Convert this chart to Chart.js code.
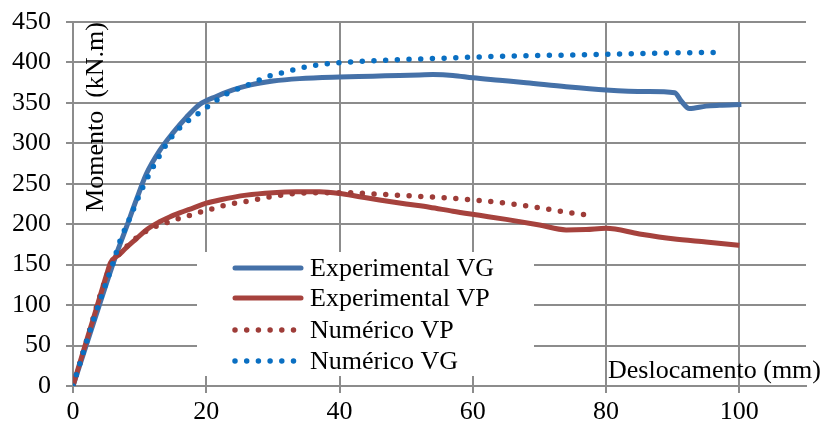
<!DOCTYPE html>
<html>
<head>
<meta charset="utf-8">
<script src="https://cdn.jsdelivr.net/npm/chart.js@4"></script>
<style>
  html, body { margin: 0; background: #fff; }
</style>
</head>
<body>
<canvas id="momentChart" width="827" height="427"></canvas>
<script>
// Deslocamento (mm) / Momento (kN.m) per series
const dispVgExp = [0, 3, 6.3, 8, 9.5, 11, 13, 15, 17, 19, 21.5, 24, 26.5, 30, 34, 40, 45, 49, 52, 54, 57, 60, 64, 68, 74, 80, 86, 90.3, 91.3, 92.5, 95, 97, 100.3];
const momVgExp = [0, 76, 158, 196, 230, 262, 291, 313, 332, 348, 358, 366, 372, 377, 380, 382, 383, 384, 384.5, 385, 384, 381, 378, 375, 370, 366, 364, 362.5, 352, 343, 346, 347, 348];

const dispVpExp = [0, 1, 3, 5.2, 5.6, 7, 8, 9.5, 11, 13, 14.5, 16, 18, 20, 22, 26, 30, 33.5, 37, 40, 43, 46, 50, 53.5, 57, 61, 65, 70, 74, 77, 80, 85, 90, 95, 100];
const momVpExp = [0, 28, 82, 142, 152, 163, 171, 182, 193, 203, 209, 214, 220, 226, 230, 236, 239, 240, 240, 238, 234, 230, 225, 221, 216, 211, 206, 199, 193, 193.5, 195, 188, 182, 178, 174];

const dispVpNum = [0, 2, 4, 6, 6.8, 8, 9.5, 11.3, 13, 14.5, 16.3, 18, 19.5, 21.3, 23, 26.5, 30, 33.5, 37, 40.5, 46, 53, 60, 67, 74, 77.5];
const momVpNum = [0, 55, 110, 155, 162, 172, 183, 193, 199, 203, 208, 212, 216, 220, 224, 229, 234.5, 238, 239, 239, 237, 234, 230, 224, 215, 211];

const dispVgNum = [0, 3, 6, 7, 8.5, 10.5, 13, 15, 17, 19, 20.5, 23, 26.8, 29, 31.8, 35.3, 40.5, 45, 49, 55, 61.5, 70, 79.5, 88, 97];
const momVgNum = [0, 80, 152, 178, 207, 246, 285, 310, 326, 338, 347, 361, 374, 382, 388, 395, 400, 402, 403.5, 405, 407, 408.5, 410, 411.5, 412.5];

const seriesNames = ['Experimental VG', 'Experimental VP', 'Numérico VP', 'Numérico VG'];

const serif = '"Liberation Serif", "Times New Roman", serif';
const gridGrey = '#8c8c8c';
const dotGap = [0, 11.7];

const toPoints = (xs, ys) => xs.map((x, i) => ({ x: x, y: ys[i] }));

// axis titles and the boxed legend sitting inside the plot
const overlay = {
    id: 'overlay',
    beforeDatasetsDraw(chart) {
        const ctx = chart.ctx;
        ctx.save();
        ctx.fillStyle = '#fff';
        ctx.fillRect(197, 252, 337, 124);

        const rows = [268, 298, 330, 361];
        chart.data.datasets.forEach((ds, i) => {
            const y = rows[i];
            ctx.strokeStyle = ds.borderColor;
            ctx.lineWidth = ds.borderWidth;
            ctx.lineCap = 'round';
            ctx.setLineDash(ds.borderDash || []);
            ctx.beginPath();
            ctx.moveTo(235, y);
            ctx.lineTo(ds.borderDash ? 294 : 301, y);
            ctx.stroke();
            ctx.setLineDash([]);

            ctx.fillStyle = '#000';
            ctx.font = '26px ' + serif;
            ctx.textAlign = 'left';
            ctx.textBaseline = 'middle';
            ctx.fillText(ds.label, 310, y + 1);
        });
        ctx.restore();
    },
    afterDraw(chart) {
        const ctx = chart.ctx;
        ctx.save();
        ctx.fillStyle = '#000';
        ctx.font = '26px ' + serif;
        ctx.textBaseline = 'alphabetic';

        ctx.textAlign = 'left';
        ctx.fillText('Deslocamento (mm)', 608, 378);

        ctx.translate(102.5, 117);
        ctx.rotate(-Math.PI / 2);
        ctx.textAlign = 'center';
        ctx.fillText('Momento  (kN.m)', 0, 0);
        ctx.restore();
    }
};

// fixed axis sizes, no extra room for overhanging tick labels
const fixX = scale => {
    scale.height = 41;
    scale.paddingLeft = 0;
    scale.paddingRight = 0;
};
const fixY = scale => {
    scale.width = 73;
    scale.paddingTop = 0;
    scale.paddingBottom = 0;
};

new Chart(document.getElementById('momentChart'), {
    type: 'line',
    data: {
        datasets: [{
            label: seriesNames[0],
            data: toPoints(dispVgExp, momVgExp),
            borderColor: '#4571a8',
            borderWidth: 5,
            order: 3
        }, {
            label: seriesNames[1],
            data: toPoints(dispVpExp, momVpExp),
            borderColor: '#a6423d',
            borderWidth: 5,
            order: 2
        }, {
            label: seriesNames[2],
            data: toPoints(dispVpNum, momVpNum),
            borderColor: '#9e3c38',
            borderWidth: 5.5,
            borderDash: dotGap,
            borderCapStyle: 'round',
            order: 1
        }, {
            label: seriesNames[3],
            data: toPoints(dispVgNum, momVgNum),
            borderColor: '#0a6fc2',
            borderWidth: 5.5,
            borderDash: dotGap,
            borderCapStyle: 'round',
            order: 0
        }]
    },
    options: {
        responsive: false,
        animation: false,
        devicePixelRatio: 1,
        layout: { padding: { top: 22, right: 21, left: 0, bottom: 0 } },
        elements: {
            point: { radius: 0 },
            line: { cubicInterpolationMode: 'monotone', fill: false }
        },
        plugins: {
            legend: { display: false },
            tooltip: { enabled: false }
        },
        scales: {
            x: {
                type: 'linear',
                min: 0,
                max: 110,
                afterFit: fixX,
                ticks: {
                    stepSize: 20,
                    includeBounds: false,
                    color: '#000',
                    padding: 4,
                    font: { family: serif, size: 26 }
                },
                grid: { color: gridGrey, lineWidth: 2, tickLength: 7 },
                border: { color: gridGrey, width: 2 }
            },
            y: {
                min: 0,
                max: 450,
                afterFit: fixY,
                ticks: {
                    stepSize: 50,
                    color: '#000',
                    padding: 15,
                    font: { family: serif, size: 26 }
                },
                grid: { color: gridGrey, lineWidth: 2, tickLength: 7 },
                border: { color: gridGrey, width: 2 }
            }
        }
    },
    plugins: [overlay]
});
</script>
</body>
</html>
